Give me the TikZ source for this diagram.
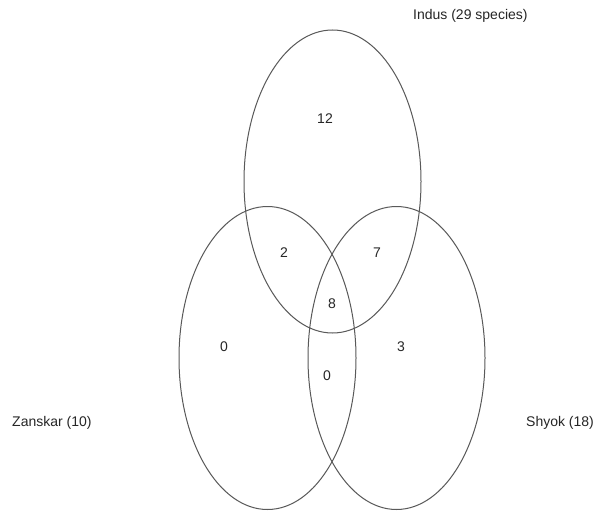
\documentclass[tikz,border=0pt]{standalone}
\usepackage{fontspec}
\setmainfont{Liberation Sans}
\begin{document}
\begin{tikzpicture}[x=1pt,y=-1pt,
  setring/.style={draw=black!65, line width=1pt},
  count/.style={font=\fontsize{14}{16}\selectfont, text=black!85, inner sep=0pt},
  setname/.style={font=\fontsize{14}{16}\selectfont, text=black!85, inner sep=0pt, anchor=west}]
  \useasboundingbox[fill=white] (0,0) rectangle (597,511);
  % the three sets
  \draw[setring] (332.5,181.5) ellipse [x radius=88.5, y radius=151.5];
  \draw[setring] (267.5,358) ellipse [x radius=88.5, y radius=151.5];
  \draw[setring] (396.5,358) ellipse [x radius=88.5, y radius=151.5];
  % set labels
  \node[setname] (indus) at (413,16) {Indus (29 species)};
  \node[setname] (zanskar) at (12,423) {Zanskar (10)};
  \node[setname] (shyok) at (526,423) {Shyok (18)};
  % region counts
  \node[count] (iOnly) at (325,119) {12};
  \node[count] (iz) at (284,253) {2};
  \node[count] (is) at (377,253) {7};
  \node[count] (izs) at (332,304) {8};
  \node[count] (zOnly) at (224,347) {0};
  \node[count] (sOnly) at (401,347) {3};
  \node[count] (zs) at (327,376) {0};
\end{tikzpicture}
\end{document}
